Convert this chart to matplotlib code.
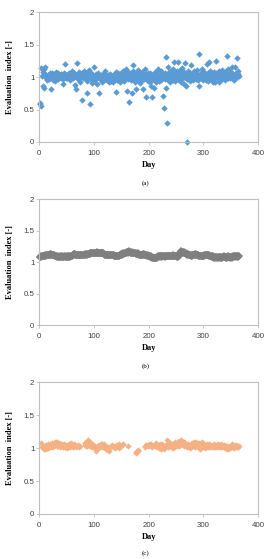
import matplotlib
matplotlib.use("Agg")
import matplotlib.pyplot as plt
import numpy as np

days = list(range(1, 366))

index_a = [
    0.60, 0.59, 1.14, 0.56, 1.02, 1.08, 0.86, 1.12, 0.84, 1.15,
    1.05, 0.98, 1.03, 0.95, 1.01, 1.04, 0.97, 1.00, 1.06, 0.99,
    0.81, 1.03, 1.07, 1.00, 0.96, 1.04, 1.02, 0.94, 1.05, 1.01,
    1.08, 0.99, 1.03, 1.06, 0.97, 1.02, 1.04, 1.00, 0.98, 1.05,
    1.03, 1.01, 0.97, 0.89, 1.06, 1.02, 1.20, 0.99, 1.04, 1.01,
    0.98, 1.05, 1.03, 1.00, 1.07, 0.96, 1.02, 1.04, 1.09, 1.01,
    0.99, 1.03, 1.06, 1.00, 0.88, 1.05, 0.81, 1.02, 1.22, 1.04,
    0.97, 1.08, 1.01, 1.05, 0.92, 1.03, 1.00, 1.06, 0.65, 0.98,
    1.04, 1.10, 1.02, 0.99, 1.07, 1.01, 0.94, 0.76, 1.05, 1.11,
    1.00, 0.59, 1.03, 0.97, 1.06, 0.91, 1.02, 1.04, 0.99, 1.16,
    1.01, 0.95, 1.05, 0.98, 1.03, 0.90, 1.06, 1.00, 0.76, 1.02,
    0.97, 1.04, 0.99, 1.03, 0.93, 1.05, 1.01, 0.96, 1.02, 1.10,
    0.98, 1.04, 0.95, 1.00, 1.03, 0.97, 0.92, 1.02, 0.99, 1.05,
    0.94, 1.01, 0.97, 1.04, 0.92, 1.00, 0.96, 1.03, 0.98, 1.08,
    0.77, 1.02, 0.95, 1.06, 0.99, 1.04, 0.92, 1.01, 1.07, 0.97,
    1.03, 0.96, 1.10, 1.00, 0.94, 1.05, 1.02, 0.98, 1.12, 0.79,
    1.04, 0.97, 1.08, 0.61, 1.01, 1.06, 0.95, 1.03, 0.75, 1.00,
    1.09, 1.19, 0.98, 1.04, 0.93, 1.07, 0.81, 1.02, 0.96, 1.05,
    1.11, 0.99, 1.03, 0.91, 1.06, 1.00, 0.95, 1.08, 1.02, 0.81,
    1.04, 0.97, 1.13, 0.99, 1.05, 0.70, 1.01, 0.94, 1.07, 0.98,
    1.03, 0.92, 1.06, 1.00, 0.87, 1.04, 0.70, 0.97, 1.02, 0.83,
    1.08, 0.95, 1.03, 0.92, 1.00, 1.06, 0.98, 1.12, 0.94, 1.04,
    1.01, 0.96, 1.09, 0.99, 1.05, 0.71, 1.02, 0.53, 0.97, 1.07,
    1.31, 0.84, 1.03, 0.30, 1.15, 0.96, 1.08, 1.01, 0.93, 1.05,
    1.10, 0.98, 1.04, 0.95, 1.12, 1.24, 1.00, 0.94, 1.07, 1.02,
    0.97, 1.09, 0.99, 1.23, 1.05, 0.96, 1.11, 1.01, 0.93, 1.06,
    1.14, 0.98, 1.03, 0.90, 1.08, 1.22, 1.00, 0.86, 1.05, 0.97,
    0.00, 1.10, 0.99, 1.04, 0.94, 1.07, 1.02, 1.19, 0.98, 1.05,
    1.01, 0.95, 1.09, 1.03, 0.99, 1.06, 0.97, 1.11, 1.02, 0.96,
    1.04, 0.86, 1.36, 1.00, 1.07, 0.98, 1.03, 1.12, 0.95, 1.05,
    1.01, 1.08, 0.99, 1.04, 0.96, 1.21, 1.02, 1.06, 0.94, 1.23,
    1.03, 0.99, 1.10, 1.01, 0.95, 1.06, 1.02, 0.93, 1.08, 1.00,
    1.04, 0.93, 1.07, 1.25, 0.98, 1.05, 1.01, 0.93, 1.09, 1.03,
    0.99, 1.06, 1.02, 0.97, 1.11, 1.04, 1.00, 1.07, 0.96, 1.03,
    1.09, 1.01, 1.05, 1.32, 0.98, 1.13, 1.02, 1.06, 0.99, 1.04,
    1.08, 1.00, 1.15, 0.97, 1.05, 1.02, 0.95, 1.16, 1.03, 1.07,
    1.01, 1.30, 1.05, 1.10, 1.02,
]

index_b = [
    1.08, 1.08, 1.09, 1.08, 1.09, 1.09, 1.10, 1.09, 1.10, 1.10,
    1.11, 1.10, 1.11, 1.11, 1.12, 1.11, 1.12, 1.12, 1.13, 1.12,
    1.12, 1.13, 1.12, 1.12, 1.11, 1.12, 1.11, 1.10, 1.10, 1.09,
    1.09, 1.08, 1.09, 1.08, 1.08, 1.09, 1.08, 1.08, 1.09, 1.08,
    1.08, 1.09, 1.08, 1.08, 1.08, 1.09, 1.09, 1.08, 1.08, 1.09,
    1.08, 1.08, 1.09, 1.08, 1.09, 1.09, 1.08, 1.09, 1.09, 1.10,
    1.11, 1.12, 1.13, 1.13, 1.12, 1.13, 1.12, 1.12, 1.11, 1.12,
    1.11, 1.12, 1.11, 1.11, 1.12, 1.12, 1.11, 1.12, 1.12, 1.11,
    1.12, 1.12, 1.13, 1.12, 1.12, 1.13, 1.13, 1.12, 1.13, 1.13,
    1.13, 1.14, 1.13, 1.14, 1.14, 1.14, 1.15, 1.14, 1.15, 1.15,
    1.15, 1.14, 1.15, 1.15, 1.16, 1.15, 1.15, 1.14, 1.15, 1.15,
    1.14, 1.15, 1.15, 1.14, 1.14, 1.15, 1.14, 1.13, 1.13, 1.12,
    1.12, 1.11, 1.12, 1.12, 1.11, 1.12, 1.12, 1.11, 1.12, 1.11,
    1.12, 1.11, 1.11, 1.12, 1.11, 1.11, 1.10, 1.10, 1.09, 1.10,
    1.09, 1.09, 1.10, 1.09, 1.10, 1.10, 1.11, 1.12, 1.12, 1.13,
    1.13, 1.12, 1.13, 1.14, 1.13, 1.14, 1.14, 1.15, 1.15, 1.16,
    1.16, 1.15, 1.16, 1.17, 1.16, 1.16, 1.15, 1.15, 1.16, 1.15,
    1.15, 1.14, 1.15, 1.14, 1.14, 1.13, 1.14, 1.13, 1.13, 1.14,
    1.13, 1.12, 1.13, 1.12, 1.12, 1.11, 1.12, 1.12, 1.13, 1.12,
    1.12, 1.13, 1.12, 1.11, 1.12, 1.11, 1.10, 1.11, 1.10, 1.10,
    1.09, 1.09, 1.08, 1.09, 1.08, 1.07, 1.08, 1.07, 1.06, 1.07,
    1.06, 1.06, 1.07, 1.06, 1.07, 1.08, 1.09, 1.08, 1.09, 1.09,
    1.08, 1.09, 1.09, 1.08, 1.09, 1.09, 1.10, 1.09, 1.09, 1.08,
    1.09, 1.09, 1.10, 1.09, 1.10, 1.10, 1.09, 1.10, 1.09, 1.10,
    1.10, 1.09, 1.10, 1.11, 1.10, 1.10, 1.09, 1.10, 1.09, 1.09,
    1.08, 1.09, 1.08, 1.09, 1.10, 1.12, 1.14, 1.15, 1.16, 1.17,
    1.16, 1.16, 1.15, 1.16, 1.15, 1.14, 1.14, 1.13, 1.14, 1.13,
    1.12, 1.13, 1.12, 1.12, 1.11, 1.12, 1.11, 1.10, 1.11, 1.10,
    1.11, 1.12, 1.11, 1.12, 1.13, 1.12, 1.13, 1.12, 1.12, 1.11,
    1.11, 1.10, 1.10, 1.09, 1.10, 1.09, 1.10, 1.09, 1.10, 1.10,
    1.10, 1.11, 1.11, 1.12, 1.11, 1.12, 1.12, 1.11, 1.11, 1.10,
    1.11, 1.10, 1.10, 1.09, 1.09, 1.08, 1.09, 1.08, 1.08, 1.07,
    1.08, 1.07, 1.08, 1.08, 1.07, 1.08, 1.07, 1.08, 1.08, 1.07,
    1.08, 1.08, 1.07, 1.08, 1.07, 1.08, 1.08, 1.09, 1.08, 1.08,
    1.07, 1.08, 1.08, 1.07, 1.08, 1.09, 1.08, 1.08, 1.07, 1.08,
    1.08, 1.07, 1.08, 1.09, 1.08, 1.09, 1.09, 1.08, 1.09, 1.09,
    1.08, 1.09, 1.09, 1.08, 1.09,
]

N = None
index_c = [
    N, N, 1.08, N, 1.02, 1.00, 1.03, 0.99, 1.01, 1.04,
    1.02, 0.99, 1.05, 1.03, 1.00, 1.06, 1.02, 1.04, 1.01, 1.07,
    1.03, 1.05, 1.02, 1.08, 1.04, 1.06, 1.03, 1.09, 1.05, 1.10,
    1.07, 1.04, 1.09, 1.06, 1.03, 1.08, 1.05, 1.02, 1.07, 1.04,
    1.06, 1.03, 1.05, 1.01, 1.04, 1.07, 1.02, 1.05, 1.03, 1.00,
    1.04, 1.02, 1.05, 1.03, 1.06, 1.01, 1.04, 1.08, 1.03, 1.05,
    1.02, 1.04, 1.06, 1.03, N, 1.05, 1.02, 1.04, N, 1.03,
    1.05, N, 1.02, 1.04, N, N, N, N, N, N,
    N, N, 1.05, 1.08, 1.03, 1.10, 1.06, 1.04, 1.12, 1.08,
    1.05, 1.09, 1.03, 1.07, 1.04, 1.01, 1.06, 1.03, 1.05, 1.02,
    1.04, 1.00, 0.98, 0.95, 0.99, 1.02, 1.00, 1.04, 1.01, 1.05,
    1.03, 1.06, 1.02, 1.07, 1.04, 1.05, 1.02, 1.06, 1.03, 1.00,
    1.03, 0.99, 1.01, 0.98, 1.02, 0.97, 1.00, 0.96, N, N,
    N, 1.03, 1.05, 1.02, 1.04, 1.01, N, 1.03, 1.00, 1.04,
    1.02, N, 1.05, 1.03, 1.00, 1.06, 1.02, 1.04, N, N,
    N, 1.05, 1.07, N, N, N, N, N, N, N,
    N, N, 1.04, N, N, N, N, N, N, N,
    N, N, N, N, N, 0.93, 0.94, 0.95, N, 0.96,
    0.97, N, N, N, N, N, N, N, N, N,
    N, N, 1.04, 1.02, 1.05, N, N, 1.03, N, N,
    1.06, N, 1.04, N, 1.07, 1.02, N, N, 1.05, N,
    N, 1.03, 1.08, N, 1.01, N, 1.04, N, 1.00, 1.06,
    N, 0.99, N, 1.03, 1.07, N, 1.01, 0.98, N, 1.02,
    1.05, N, 1.13, 1.04, 1.02, 1.06, N, 1.03, 1.08, 1.01,
    1.05, 1.03, 1.07, 1.00, 1.04, 1.02, 1.06, 1.03, 1.09, 1.05,
    1.07, 1.04, 1.10, 1.06, 1.03, 1.11, 1.08, 1.05, 1.12, 1.09,
    1.06, 1.10, 1.07, 1.04, 1.09, 1.05, 1.08, 1.03, 1.06, 1.01,
    1.04, 1.07, 1.02, 1.05, 1.00, 1.03, 1.06, 1.02, 1.08, 1.04,
    1.07, 1.03, 1.09, 1.05, 1.02, 1.06, 1.10, 1.04, 1.07, 1.01,
    1.05, 1.08, 1.03, 0.99, 1.06, 1.02, 1.04, 1.09, 1.01, 1.05,
    1.03, 1.07, 1.00, 1.04, 1.02, 1.06, 1.03, 1.05, 1.01, 1.04,
    1.06, 1.02, 1.05, 1.03, 1.04, 1.01, 1.05, 1.03, 1.06, 1.02,
    1.04, 1.01, 1.03, 1.05, 1.02, 1.04, 1.07, 1.03, 1.05, 1.02,
    1.04, 1.06, 1.03, 1.05, 1.01, 1.04, 1.02, 1.05, 1.03, 1.00,
    1.02, 1.04, 0.99, 1.03, 1.01, 0.98, 1.02, 1.00, 1.04, 1.01,
    1.03, 1.06, 1.02, 1.05, 1.01, 1.04, 1.00, 1.03, 1.05, 1.02,
    1.04, 1.01, 1.03, 1.02, 1.04,
]

x_ticks = [0, 100, 200, 300, 400]
y_ticks = [0, 0.5, 1, 1.5, 2]
y_ticklabels = ["0", "0.5", "1", "1.5", "2"]
panel_labels = ["(a)", "(b)", "(c)"]
xlabel = "Day"
ylabel = "Evaluation  index [-]"

W, H = 268, 559
fig = plt.figure(figsize=(W / 100, H / 100), dpi=100)

# (top_px, bottom_px, label_y_px)
layout = [
    (12.3, 142.0, 183.0),
    (199.3, 325.0, 366.0),
    (382.3, 514.0, 553.0),
]
left_px, right_px = 39.3, 258.0
series = [index_a, index_b, index_c]
colors = ["#5B9BD5", "#7F7F7F", "#F4B183"]
msizes = [3.3, 3.6, 3.2]

serif = ["Liberation Serif", "DejaVu Serif"]
sans = ["Liberation Sans", "DejaVu Sans"]

for (top, bot, lab_y), vals, col, ms, plab in zip(layout, series, colors, msizes, panel_labels):
    ax = fig.add_axes([left_px / W, (H - bot) / H, (right_px - left_px) / W, (bot - top) / H])
    v = np.array([np.nan if val is None else val for val in vals], dtype=float)
    ax.plot(days, v, linestyle="none", marker="D", markersize=ms,
            color=col, markeredgewidth=0, clip_on=False)
    ax.set_xlim(0, 400)
    ax.set_ylim(0, 2)
    ax.set_xticks(x_ticks)
    ax.set_yticks(y_ticks)
    ax.set_yticklabels(y_ticklabels)
    for s in ax.spines.values():
        s.set_color("#BFBFBF")
        s.set_linewidth(0.8)
    ax.tick_params(axis="both", colors="#BFBFBF", labelcolor="#404040",
                   labelsize=5.7, length=2, width=0.6, direction="out")
    ax.tick_params(axis="x", pad=4)
    ax.tick_params(axis="y", pad=1.5)
    for t in ax.get_xticklabels() + ax.get_yticklabels():
        t.set_family(sans)
    ax.set_xlabel(xlabel, fontsize=6, fontweight="bold", family=serif, labelpad=2.5)
    ax.set_ylabel(ylabel, fontsize=6, fontweight="bold", family=serif, labelpad=6.5)
    fig.text(((left_px + right_px) / 2 - 3) / W, 1 - lab_y / H, plab,
             fontsize=5, family=serif, ha="center", va="center")

fig.savefig("out.png", dpi=100)
